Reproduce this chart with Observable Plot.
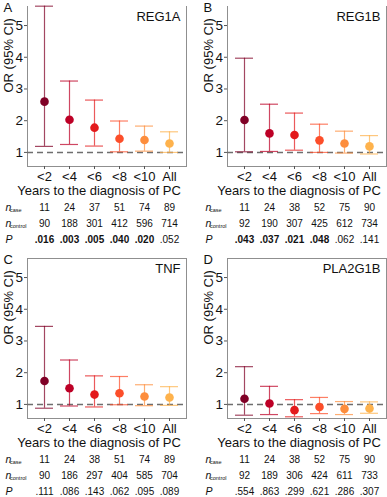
<!DOCTYPE html>
<html><head><meta charset="utf-8">
<script src="https://cdn.jsdelivr.net/npm/d3@7"></script>
<script src="https://cdn.jsdelivr.net/npm/@observablehq/plot@0.6"></script>
<style>
body{margin:0;background:#fff}
#chart{position:relative;width:387px;height:497px;font-family:"Liberation Sans",Arial,sans-serif}
#chart svg{position:absolute;overflow:visible}
</style></head><body><div id="chart"></div>
<script>
const categories = ["<2","<4","<6","<8","<10","All"];
const colors = ["#800026","#bd0026","#e31a1c","#fc4e2a","#fd8d3c","#feb24c"];
const panelLetters = ["A","B","C","D"];
const genes = ["REG1A","REG1B","TNF","PLA2G1B"];
const yTicks = [1,2,3,4,5];
const xTitle = "Years to the diagnosis of PC";
const yTitle = "OR (95% CI)";

const orREG1A = [2.60,2.03,1.78,1.43,1.39,1.28];
const loREG1A = [1.19,1.25,1.20,1.02,1.04,1.00];
const hiREG1A = [5.61,3.25,2.65,1.99,1.83,1.65];
const orREG1B = [2.02,1.60,1.55,1.38,1.28,1.19];
const loREG1B = [1.02,1.03,1.07,1.00,0.98,0.95];
const hiREG1B = [3.97,2.52,2.24,1.89,1.67,1.53];
const orTNF = [1.74,1.51,1.31,1.35,1.25,1.22];
const loTNF = [0.88,0.95,0.92,0.99,0.96,0.97];
const hiTNF = [3.46,2.40,1.90,1.88,1.62,1.56];
const orPLA2G1B = [1.18,1.03,0.82,0.92,0.86,0.87];
const loPLA2G1B = [0.66,0.68,0.61,0.71,0.68,0.72];
const hiPLA2G1B = [2.19,1.57,1.15,1.22,1.09,1.08];

const nCaseREG1A = [11,24,37,51,74,89];
const nControlREG1A = [90,188,301,412,596,714];
const pREG1A = [0.016,0.003,0.005,0.040,0.020,0.052];
const nCaseREG1B = [11,24,38,52,75,90];
const nControlREG1B = [92,190,307,425,612,734];
const pREG1B = [0.043,0.037,0.021,0.048,0.062,0.141];
const nCaseTNF = [11,24,38,51,74,89];
const nControlTNF = [90,186,297,404,585,704];
const pTNF = [0.111,0.086,0.143,0.062,0.095,0.089];
const nCasePLA2G1B = [11,24,38,52,75,90];
const nControlPLA2G1B = [92,189,306,424,611,733];
const pPLA2G1B = [0.554,0.863,0.299,0.621,0.286,0.307];

const ors = [orREG1A, orREG1B, orTNF, orPLA2G1B];
const los = [loREG1A, loREG1B, loTNF, loPLA2G1B];
const his = [hiREG1A, hiREG1B, hiTNF, hiPLA2G1B];
const nCases = [nCaseREG1A, nCaseREG1B, nCaseTNF, nCasePLA2G1B];
const nControls = [nControlREG1A, nControlREG1B, nControlTNF, nControlPLA2G1B];
const ps = [pREG1A, pREG1B, pTNF, pPLA2G1B];

const fmtP = p => d3.format(".3f")(p).replace(/^0/, "");
const positions = [[0,0],[200,0],[0,248],[200,248]];

function panel(i) {
  const data = categories.map((c, j) => ({
    cat: c, or: ors[i][j], lo: los[i][j], hi: his[i][j],
    nCase: nCases[i][j], nControl: nControls[i][j], p: ps[i][j]
  }));
  const H = 249, FH = 160;
  const T = i < 2 ? 6 : 10;
  const fc = "#8f8f8f";
  const frameMarks = i < 2
    ? [Plot.frame({anchor: "left", stroke: fc}), Plot.frame({anchor: "right", stroke: fc}), Plot.frame({anchor: "bottom", stroke: fc})]
    : [Plot.frame({stroke: fc})];
  const errStyle = {stroke: "cat", strokeWidth: 1.2, strokeOpacity: 0.72};
  const txt = {lineAnchor: "middle"};
  return Plot.plot({
    width: 187, height: H,
    marginLeft: 27, marginRight: 1, marginTop: T, marginBottom: H - T - FH,
    style: {fontFamily: "Liberation Sans, Arial, sans-serif", fontSize: "13px", color: "#111", background: "transparent", overflow: "visible"},
    x: {type: "band", domain: categories, paddingInner: 0.3, paddingOuter: 0.245},
    y: {domain: [0.556, 5.6]},
    color: {domain: categories, range: colors},
    marks: [
      ...frameMarks,
      Plot.ruleY([1], {stroke: "#6e6e6e", strokeWidth: 1.5, strokeDasharray: "6,4"}),
      Plot.ruleX(data, {x: "cat", y1: "lo", y2: "hi", ...errStyle}),
      Plot.tickY(data, {x: "cat", y: "lo", ...errStyle}),
      Plot.tickY(data, {x: "cat", y: "hi", ...errStyle}),
      Plot.dot(data, {x: "cat", y: "or", fill: "cat", r: 4.3}),
      Plot.axisY({ticks: yTicks, tickFormat: d => String(d), tickSize: 3, tickPadding: 1.5, fontSize: 13.5, label: null, stroke: "#555"}),
      Plot.axisX({tickSize: 3, tickPadding: 2, fontSize: 13, label: null, stroke: "#555"}),
      Plot.text([yTitle], {text: d => d, frameAnchor: "left", dx: -19, dy: 6, rotate: -90, fontSize: 13, ...txt}),
      Plot.text([panelLetters[i]], {text: d => d, frameAnchor: "top-left", dx: -24, dy: 1.5, textAnchor: "start", fontSize: 13, ...txt}),
      Plot.text([genes[i]], {text: d => d, frameAnchor: "top-right", dx: -6, dy: 10.5, textAnchor: "end", fontSize: 13, ...txt}),
      Plot.text([xTitle], {text: d => d, frameAnchor: "bottom", dx: -8, dy: 24, fontSize: 13, ...txt}),
      Plot.text(data, {x: "cat", frameAnchor: "bottom", dy: 41, text: d => String(d.nCase), fontSize: 10, ...txt}),
      Plot.text(data, {x: "cat", frameAnchor: "bottom", dy: 57, text: d => String(d.nControl), fontSize: 10, ...txt}),
      Plot.text(data, {filter: d => d.p < 0.05, x: "cat", frameAnchor: "bottom", dy: 73, text: d => fmtP(d.p), fontSize: 10, fontWeight: "bold", ...txt}),
      Plot.text(data, {filter: d => d.p >= 0.05, x: "cat", frameAnchor: "bottom", dy: 73, text: d => fmtP(d.p), fontSize: 10, ...txt}),
      Plot.text(["n"], {text: d => d, frameAnchor: "bottom-left", dx: -22, dy: 41, textAnchor: "start", fontSize: 10.5, fontStyle: "italic", ...txt}),
      Plot.text(["case"], {text: d => d, frameAnchor: "bottom-left", dx: -17.5, dy: 43.5, textAnchor: "start", fontSize: 5.5, ...txt}),
      Plot.text(["n"], {text: d => d, frameAnchor: "bottom-left", dx: -22, dy: 57, textAnchor: "start", fontSize: 10.5, fontStyle: "italic", ...txt}),
      Plot.text(["control"], {text: d => d, frameAnchor: "bottom-left", dx: -17.5, dy: 59.5, textAnchor: "start", fontSize: 5.5, ...txt}),
      Plot.text(["P"], {text: d => d, frameAnchor: "bottom-left", dx: -22, dy: 73, textAnchor: "start", fontSize: 10.5, fontStyle: "italic", ...txt})
    ]
  });
}

const chart = document.getElementById("chart");
for (let i = 0; i < 4; i++) {
  const svg = panel(i);
  svg.style.left = positions[i][0] + "px";
  svg.style.top = positions[i][1] + "px";
  chart.appendChild(svg);
}
</script></body></html>
